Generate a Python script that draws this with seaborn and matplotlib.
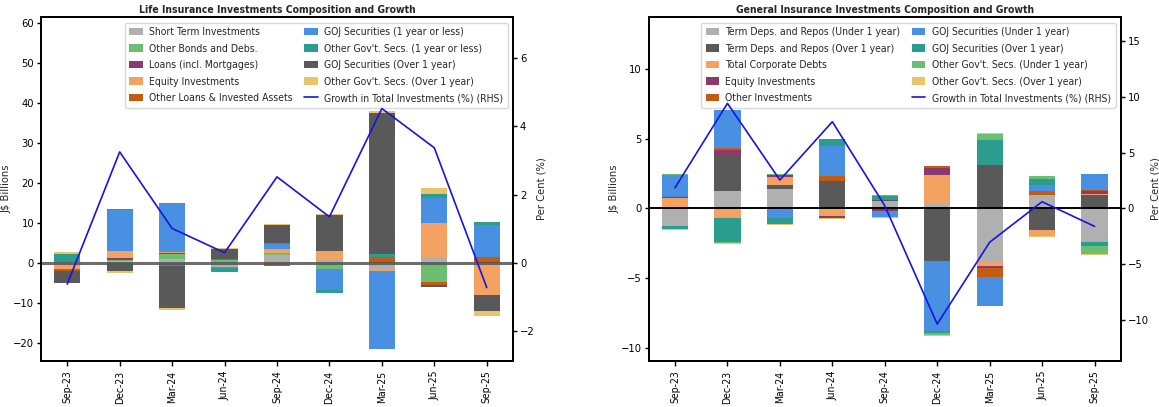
import numpy as np
import matplotlib
matplotlib.use("Agg")
import matplotlib.pyplot as plt
import seaborn as sns
from matplotlib import font_manager
from matplotlib.patches import Patch
from matplotlib.lines import Line2D

periods = ["Sep-23", "Dec-23", "Mar-24", "Jun-24", "Sep-24",
           "Dec-24", "Mar-25", "Jun-25", "Sep-25"]

# Life insurance (J$ billions, change per quarter)
life_short_term = [0.3, 0.4, 0.9, -1.1, 2.0, 0.75, -1.4, 1.3, 0.0]
life_other_bonds = [0.0, 0.3, 1.3, 0.7, 0.5, -1.5, 0.0, -4.75, 0.0]
life_loans = [0.0, 0.5, 0.2, 0.0, 0.0, 0.0, -0.2, 0.0, 0.2]
life_equity = [-1.4, 1.75, 0.25, 0.0, 1.0, 2.25, -0.4, 8.7, -8.0]
life_other_loans = [-0.5, 0.0, 0.1, 0.3, -0.7, 0.0, 1.4, -0.65, 1.2]
life_goj_short = [0.0, 10.3, 12.25, -0.25, 1.3, -5.25, -19.5, 6.25, 8.0]
life_oth_gov_short = [1.9, 0.2, -0.65, -1.0, 0.15, -0.65, 0.85, 1.0, 0.75]
life_goj_long = [-3.1, -2.1, -10.6, 2.5, 4.5, 9.0, 35.3, -0.5, -4.0]
life_oth_gov_long = [0.45, -0.3, -0.45, 0.17, 0.25, 0.25, 0.5, 1.5, -1.25]
life_growth = [-0.62, 3.25, 1.01, 0.30, 2.52, 1.35, 4.52, 3.37, -0.72]

life_labels = ["Short Term Investments", "Other Bonds and Debs.",
               "Loans (incl. Mortgages)", "Equity Investments",
               "Other Loans & Invested Assets", "GOJ Securities (1 year or less)",
               "Other Gov't. Secs. (1 year or less)", "GOJ Securities (Over 1 year)",
               "Other Gov't. Secs. (Over 1 year)"]

# General insurance
gen_td_short = [-1.27, 1.24, 1.39, 0.0, 0.53, 0.36, -3.85, 0.96, -2.42]
gen_td_long = [0.0, 2.52, 0.28, 1.96, 0.07, -3.78, 3.11, -1.56, 0.96]
gen_corp_debt = [0.74, -0.69, 0.6, -0.55, 0.0, 2.01, -0.29, -0.43, 0.09]
gen_equity = [0.05, 0.43, 0.1, -0.14, -0.17, 0.5, -0.12, 0.0, 0.19]
gen_other_inv = [0.0, 0.14, 0.05, 0.36, 0.0, 0.17, -0.67, 0.28, 0.07]
gen_goj_short = [1.6, 2.73, -0.69, 2.15, -0.48, -5.0, -2.06, 0.43, 1.14]
gen_goj_long = [-0.2, -1.73, -0.41, 0.51, 0.3, -0.15, 1.79, 0.43, -0.28]
gen_oth_gov_short = [0.07, -0.07, 0.07, 0.0, 0.05, -0.15, 0.43, 0.22, -0.55]
gen_oth_gov_long = [-0.07, -0.07, -0.07, -0.07, -0.07, -0.07, 0.05, -0.07, -0.07]
gen_growth = [1.85, 9.43, 2.54, 7.78, 0.23, -10.4, -3.05, 0.59, -1.62]

gen_labels = ["Term Deps. and Repos (Under 1 year)", "Term Deps. and Repos (Over 1 year)",
              "Total Corporate Debts", "Equity Investments", "Other Investments",
              "GOJ Securities (Under 1 year)", "GOJ Securities (Over 1 year)",
              "Other Gov't. Secs. (Under 1 year)", "Other Gov't. Secs. (Over 1 year)"]

GRAY, DGRAY, GREEN, PURPLE = "#b0b0b0", "#595959", "#6cbf70", "#8c3a6e"
ORANGE, DORANGE, BLUE, TEAL, YELLOW = "#f4a261", "#c55a11", "#4a90e2", "#2a9d8f", "#e9c46a"
life_colors = [GRAY, GREEN, PURPLE, ORANGE, DORANGE, BLUE, TEAL, DGRAY, YELLOW]
gen_colors = [GRAY, DGRAY, ORANGE, PURPLE, DORANGE, BLUE, TEAL, GREEN, YELLOW]
LINE = "#1515e0"

sns.set_theme(style="ticks")

# narrow font for horizontal text (the reference is horizontally compressed)
fl = font_manager.fontManager.ttflist
names = {f.name for f in fl}
stretch = "normal"
if "Liberation Sans Narrow" in names:
    narrow = "Liberation Sans Narrow"
elif any(f.name == "DejaVu Sans" and "Condensed" in f.fname for f in fl):
    narrow, stretch = "DejaVu Sans", "condensed"
else:
    narrow = "Liberation Sans"
plt.rcParams["font.family"] = [narrow, "DejaVu Sans"]
plt.rcParams["font.stretch"] = stretch
plt.rcParams["axes.edgecolor"] = "black"
plt.rcParams["xtick.color"] = "black"
plt.rcParams["ytick.color"] = "black"


def draw_panel(ax, series, labels, colors, growth, title, ylim, yticks, ylim2, yticks2, zero_kw):
    pos = np.zeros(len(periods))
    neg = np.zeros(len(periods))
    for vals, col in zip(series, colors):
        vals = np.array(vals, dtype=float)
        bottom = np.where(vals >= 0, pos, neg)
        sns.barplot(x=periods, y=vals, order=periods, bottom=bottom, color=col,
                    width=0.5, saturation=1, errorbar=None, linewidth=0, ax=ax)
        pos += np.clip(vals, 0, None)
        neg += np.clip(vals, None, 0)
    ax.axhline(0, zorder=5, **zero_kw)

    ax2 = ax.twinx()
    sns.lineplot(x=np.arange(len(periods)), y=growth, color=LINE, lw=1.2, ax=ax2)

    ax.set_xlim(-0.5, len(periods) - 0.5)
    ax.set_ylim(*ylim)
    ax.set_yticks(yticks)
    ax2.set_ylim(*ylim2)
    ax2.set_yticks(yticks2)
    ax.set_xlabel("")
    ax.set_ylabel(r"J\$ Billions", fontsize=8, family="DejaVu Sans", labelpad=1)
    ax2.set_ylabel("Per Cent (%)", fontsize=8, family="DejaVu Sans", labelpad=1)
    ax.set_title(title, fontsize=7.5, fontweight="bold", pad=3)
    ax.tick_params(axis="x", rotation=90, labelsize=7.5, length=3.5, width=1)
    for t in ax.get_xticklabels():
        t.set_family("DejaVu Sans")
    ax.tick_params(axis="y", labelsize=8, length=3, width=1, pad=2)
    ax2.tick_params(axis="y", labelsize=8, length=3, width=1, pad=2)
    for a in (ax, ax2):
        for s in a.spines.values():
            s.set_linewidth(1.3)
            s.set_color("black")

    handles = [Patch(facecolor=c, edgecolor="none") for c in colors]
    handles.append(Line2D([0], [0], color=LINE, lw=1.2))
    leg = ax.legend(handles, labels + ["Growth in Total Investments (%) (RHS)"],
                    ncol=2, loc="upper right", fontsize=7.5, frameon=True,
                    handlelength=1.3, handletextpad=0.6, columnspacing=1.1,
                    labelspacing=0.62, borderpad=0.45, fancybox=True)
    leg.get_frame().set_edgecolor("#d0d0d0")
    leg.set_zorder(6)


fig = plt.figure(figsize=(11.59, 4.07), dpi=100)
ax_life = fig.add_axes([0.0354, 0.1138, 0.4072, 0.8437])
ax_gen = fig.add_axes([0.5598, 0.1138, 0.4072, 0.8437])

draw_panel(ax_life,
           [life_short_term, life_other_bonds, life_loans, life_equity, life_other_loans,
            life_goj_short, life_oth_gov_short, life_goj_long, life_oth_gov_long],
           life_labels, life_colors, life_growth,
           "Life Insurance Investments Composition and Growth",
           (-24.4, 61.4), np.arange(-20, 61, 10), (-2.86, 7.19), [-2, 0, 2, 4, 6],
           dict(color="#555555", lw=2.2, alpha=0.85))

draw_panel(ax_gen,
           [gen_td_short, gen_td_long, gen_corp_debt, gen_equity, gen_other_inv,
            gen_goj_short, gen_goj_long, gen_oth_gov_short, gen_oth_gov_long],
           gen_labels, gen_colors, gen_growth,
           "General Insurance Investments Composition and Growth",
           (-10.94, 13.71), [-10, -5, 0, 5, 10], (-13.69, 17.16), [-10, -5, 0, 5, 10, 15],
           dict(color="black", lw=1.4))

fig.savefig("out.png", dpi=100)
